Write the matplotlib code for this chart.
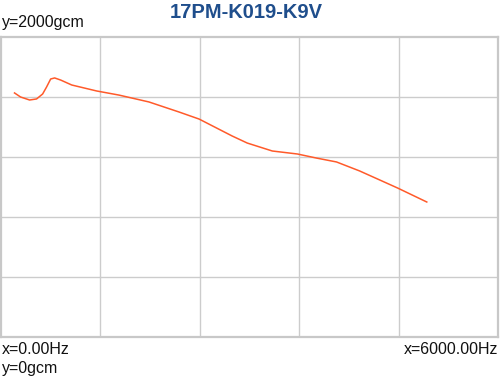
import matplotlib
matplotlib.use("Agg")
import matplotlib.pyplot as plt

plt.rcParams["font.family"] = ["Liberation Sans", "DejaVu Sans"]

# frequency (Hz) and torque (gcm)
freq = [169, 242, 351, 435, 508, 556, 605, 653, 726, 859, 1161, 1427, 1790,
        2153, 2395, 2794, 2976, 3278, 3581, 3810, 4052, 4331, 4573, 4790, 5141]
torque = [1627, 1600, 1580, 1587, 1620, 1667, 1720, 1727, 1713, 1680, 1640,
          1613, 1567, 1500, 1453, 1340, 1293, 1240, 1220, 1193, 1167, 1107,
          1047, 993, 900]

titulo = "17PM-K019-K9V"
x_max, y_max = 6000, 2000

fig = plt.figure(figsize=(5, 3.8), dpi=100)
ax = fig.add_axes([0.5 / 500, 43 / 380, 497.5 / 500, 300 / 380])

ax.plot(freq, torque, color="#ff5a2a", linewidth=1.1)
ax.set_xlim(0, x_max)
ax.set_ylim(0, y_max)
ax.set_xticks([x_max * i / 5 for i in range(1, 5)])
ax.set_yticks([y_max * i / 5 for i in range(1, 5)])
ax.tick_params(length=0, labelbottom=False, labelleft=False)
ax.grid(True, color="#cccccc", linewidth=1)
for s in ax.spines.values():
    s.set_color("#c8c8c8")
    s.set_linewidth(1.6)

fig.text(246 / 500, 1 - 12 / 380, titulo, ha="center", va="center",
         fontsize=14.5, fontweight="bold", color="#1f4e8c")
fig.text(2 / 500, 1 - 23 / 380, "y=%dgcm" % y_max, ha="left", va="center",
         fontsize=11.5, color="#111111")
fig.text(2 / 500, 1 - 350 / 380, "x=0.00Hz", ha="left", va="center",
         fontsize=11.5, color="#111111")
fig.text(498 / 500, 1 - 350 / 380, "x=%.2fHz" % x_max, ha="right", va="center",
         fontsize=11.5, color="#111111")
fig.text(2 / 500, 1 - 368 / 380, "y=0gcm", ha="left", va="center",
         fontsize=11.5, color="#111111")

fig.savefig("out.png", dpi=100)
